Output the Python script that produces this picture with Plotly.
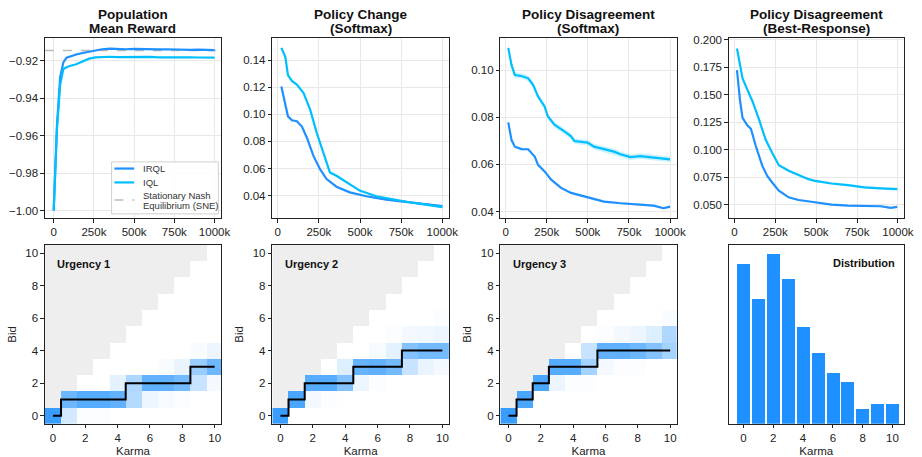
import plotly.graph_objects as go

# ---------------- data ----------------
steps_reward = [0, 20e3, 40e3, 60e3, 80e3, 100e3, 140e3, 180e3, 220e3, 260e3, 300e3, 350e3, 400e3,
                450e3, 500e3, 550e3, 600e3, 650e3, 700e3, 750e3, 800e3, 850e3, 900e3, 950e3, 1000e3]
reward_irql = [-1.0, -0.955, -0.929, -0.921, -0.9185, -0.9178, -0.9168, -0.9160, -0.9152, -0.9146,
               -0.9140, -0.9137, -0.9139, -0.9140, -0.9138, -0.9140, -0.9139, -0.9141, -0.9140,
               -0.9142, -0.9141, -0.9143, -0.9142, -0.9144, -0.9145]
reward_iql = [-1.0, -0.957, -0.933, -0.9245, -0.9236, -0.9229, -0.9220, -0.9205, -0.9190, -0.9183,
              -0.9181, -0.9180, -0.9182, -0.9181, -0.9183, -0.9182, -0.9181, -0.9183, -0.9182,
              -0.9184, -0.9183, -0.9183, -0.9184, -0.9184, -0.9185]
reward_sne = -0.9146

pc_steps_iql = [22e3, 46e3, 62e3, 86e3, 116e3, 157e3, 197e3, 237e3, 277e3, 317e3, 357e3, 418e3,
                498e3, 598e3, 699e3, 799e3, 900e3, 1000e3]
pc_iql = [0.149, 0.1424, 0.129, 0.1246, 0.122, 0.1156, 0.1034, 0.0863, 0.0717, 0.0571, 0.0546,
          0.0498, 0.0437, 0.0395, 0.0371, 0.0351, 0.0334, 0.0315]
pc_steps_irql = [22e3, 46e3, 62e3, 86e3, 116e3, 147e3, 177e3, 217e3, 257e3, 297e3, 357e3, 438e3,
                 538e3, 659e3, 799e3, 900e3, 1000e3]
pc_irql = [0.1205, 0.106, 0.0985, 0.0956, 0.0949, 0.091, 0.0827, 0.0693, 0.0595, 0.0522, 0.0466,
           0.0424, 0.0395, 0.0371, 0.0351, 0.034, 0.0322]

pds_steps_iql = [16e3, 36e3, 56e3, 96e3, 137e3, 167e3, 197e3, 237e3, 257e3, 297e3, 357e3, 398e3,
                 418e3, 498e3, 538e3, 598e3, 659e3, 699e3, 759e3, 819e3, 900e3, 1000e3]
pds_iql = [0.1094, 0.1021, 0.0979, 0.0975, 0.0965, 0.0937, 0.0888, 0.0846, 0.0803, 0.0768, 0.074,
           0.0719, 0.0699, 0.0692, 0.0675, 0.0666, 0.0654, 0.0643, 0.0631, 0.0635, 0.0628, 0.0621]
pds_steps_irql = [16e3, 36e3, 56e3, 96e3, 137e3, 177e3, 197e3, 237e3, 277e3, 337e3, 398e3, 498e3,
                  598e3, 699e3, 799e3, 900e3, 960e3, 1000e3]
pds_irql = [0.0778, 0.0703, 0.0675, 0.0665, 0.0664, 0.0633, 0.0598, 0.057, 0.0535, 0.05, 0.0479,
            0.046, 0.0442, 0.0435, 0.0431, 0.0425, 0.0414, 0.0421]

pdb_steps_iql = [16e3, 34e3, 50e3, 80e3, 111e3, 151e3, 191e3, 231e3, 272e3, 332e3, 392e3, 453e3,
                 493e3, 594e3, 694e3, 795e3, 895e3, 996e3]
pdb_iql = [0.1919, 0.1754, 0.1648, 0.1543, 0.1438, 0.1272, 0.1092, 0.0972, 0.0858, 0.0807, 0.0768,
           0.0731, 0.0716, 0.0692, 0.0677, 0.0656, 0.0647, 0.0641]
pdb_steps_irql = [16e3, 34e3, 50e3, 80e3, 101e3, 131e3, 171e3, 201e3, 231e3, 272e3, 332e3, 392e3,
                  493e3, 594e3, 694e3, 795e3, 895e3, 956e3, 996e3]
pdb_irql = [0.1723, 0.1453, 0.1288, 0.1219, 0.1189, 0.1033, 0.0852, 0.0761, 0.0701, 0.0626, 0.0566,
            0.0542, 0.0521, 0.05, 0.0491, 0.0491, 0.0485, 0.047, 0.0479]

karma = list(range(11))
bids = list(range(11))
# policy probability per karma: {bid: prob}
urgency1 = [{0: 0.88}, {0: 0.2, 1: 0.65}, {0: 0.02, 1: 0.75}, {0: 0.02, 1: 0.75},
            {1: 0.70, 2: 0.12}, {1: 0.33, 2: 0.36}, {1: 0.08, 2: 0.70},
            {1: 0.04, 2: 0.70, 3: 0.03}, {1: 0.02, 2: 0.62, 3: 0.10},
            {2: 0.25, 3: 0.45, 4: 0.03}, {2: 0.05, 3: 0.65, 4: 0.08}]
urgency2 = [{0: 0.88}, {1: 0.8}, {1: 0.05, 2: 0.75}, {1: 0.02, 2: 0.75}, {2: 0.55, 3: 0.15},
            {2: 0.08, 3: 0.68}, {2: 0.02, 3: 0.70, 4: 0.04}, {3: 0.62, 4: 0.12, 5: 0.02},
            {3: 0.25, 4: 0.55, 5: 0.05}, {3: 0.10, 4: 0.62, 5: 0.06},
            {3: 0.05, 4: 0.62, 5: 0.08, 6: 0.02}]
urgency3 = [{0: 0.88}, {1: 0.8}, {2: 0.8}, {2: 0.08, 3: 0.75}, {2: 0.02, 3: 0.75},
            {2: 0.02, 3: 0.40, 4: 0.25}, {3: 0.05, 4: 0.70, 5: 0.02}, {3: 0.02, 4: 0.70, 5: 0.05},
            {3: 0.02, 4: 0.65, 5: 0.08}, {4: 0.55, 5: 0.15}, {4: 0.40, 5: 0.35, 6: 0.03}]
urgency_labels = ["Urgency 1", "Urgency 2", "Urgency 3"]

karma_dist = [0.1744, 0.1364, 0.1863, 0.1581, 0.106, 0.0778, 0.0561, 0.0463, 0.0159, 0.0213, 0.0213]

xticks_vals = [0, 250e3, 500e3, 750e3, 1000e3]
xticks_text = ["0", "250k", "500k", "750k", "1000k"]
legend_labels = [["IRQL"], ["IQL"], ["Stationary Nash", "Equilibrium (SNE)"]]

# ---------------- style ----------------
C_IRQL = "#1E90FF"
C_IQL = "#00BFFF"
C_SNE = "#bbbbbb"
FONT = "Liberation Sans, Arial, sans-serif"
W, H = 922, 457
cols = [(45.3, 223.3), (275.0, 453.3), (505.3, 683.3), (736.0, 912.7)]
rows = [(34.3, 216.0), (243.0, 423.5)]


def px(x):
    return x / W


def py(y):
    return 1 - y / H


def xd(c):
    return [c[0] / W, c[1] / W]


def yd(r):
    return [1 - r[1] / H, 1 - r[0] / H]


fig = go.Figure()


def band_rgba(col, a):
    h = col.lstrip("#")
    r, g, b = int(h[0:2], 16), int(h[2:4], 16), int(h[4:6], 16)
    return f"rgba({r},{g},{b},{a})"


def add_series(xs, ys, color, ax, spread=0.0):
    xa, ya = ax
    if spread > 0:
        fig.add_trace(go.Scatter(x=list(xs) + list(xs)[::-1],
                                 y=[v + spread for v in ys] + [v - spread for v in ys][::-1],
                                 fill="toself", fillcolor=band_rgba(color, 0.2), line=dict(width=0),
                                 hoverinfo="skip", showlegend=False, xaxis=xa, yaxis=ya))
    fig.add_trace(go.Scatter(x=xs, y=ys, mode="lines", line=dict(color=color, width=2.2),
                             showlegend=False, xaxis=xa, yaxis=ya))


# top row
fig.add_trace(go.Scatter(x=[-55e3, 1041e3], y=[reward_sne, reward_sne], mode="lines",
                         line=dict(color=C_SNE, width=1.5, dash="dash"),
                         showlegend=False, xaxis="x", yaxis="y"))
add_series(steps_reward, reward_irql, C_IRQL, ("x", "y"))
add_series(steps_reward, reward_iql, C_IQL, ("x", "y"))

add_series(pc_steps_irql, pc_irql, C_IRQL, ("x2", "y2"), spread=0.0006)
add_series(pc_steps_iql, pc_iql, C_IQL, ("x2", "y2"), spread=0.0008)
add_series(pds_steps_irql, pds_irql, C_IRQL, ("x3", "y3"), spread=0.0005)
add_series(pds_steps_iql, pds_iql, C_IQL, ("x3", "y3"), spread=0.0012)
add_series(pdb_steps_irql, pdb_irql, C_IRQL, ("x4", "y4"), spread=0.0008)
add_series(pdb_steps_iql, pdb_iql, C_IQL, ("x4", "y4"), spread=0.0010)

# bottom heatmaps
for i, probs in enumerate([urgency1, urgency2, urgency3]):
    xa, ya = f"x{5 + i}", f"y{5 + i}"
    z = [[probs[k].get(b, 0.0) for k in karma] for b in bids]
    fig.add_trace(go.Heatmap(x=karma, y=bids, z=z, zmin=0, zmax=1,
                             colorscale=[[0, "#ffffff"], [1, C_IRQL]], showscale=False,
                             xaxis=xa, yaxis=ya, hoverinfo="skip"))
    zg = [[1 if b > k else None for k in karma] for b in bids]
    fig.add_trace(go.Heatmap(x=karma, y=bids, z=zg, zmin=0, zmax=1,
                             colorscale=[[0, "#eeeeee"], [1, "#eeeeee"]], showscale=False,
                             xaxis=xa, yaxis=ya, hoverinfo="skip"))
    mode_bid = [max(probs[k], key=probs[k].get) for k in karma]
    fig.add_trace(go.Scatter(x=karma, y=mode_bid, mode="lines",
                             line=dict(color="black", width=2, shape="hvh"),
                             showlegend=False, xaxis=xa, yaxis=ya))

fig.add_trace(go.Bar(x=karma, y=karma_dist, width=0.87, marker=dict(color=C_IRQL, line=dict(width=0)),
                     showlegend=False, xaxis="x8", yaxis="y8"))

# ---------------- layout ----------------
axis_common = dict(showline=True, mirror=True, linecolor="#222222", linewidth=1,
                   ticks="outside", ticklen=3.5, tickcolor="#222222", tickwidth=1,
                   tickfont=dict(size=11.5, color="#222222", family=FONT), zeroline=False)
lay = dict(width=W, height=H, margin=dict(l=0, r=0, t=0, b=0), plot_bgcolor="white",
           paper_bgcolor="white", font=dict(family=FONT, color="#222222"), bargap=0,
           showlegend=False)

top_yr = [[-1.004, -0.908], [0.0234, 0.1563], [0.0372, 0.1136], [0.0377, 0.2015]]
top_xr = [[-55e3, 1041e3], [-33e3, 1040e3], [-32e3, 1040e3], [-34e3, 1036e3]]
top_dt = [[-1.00, -0.98, -0.96, -0.94, -0.92], [0.04, 0.06, 0.08, 0.10, 0.12, 0.14],
          [0.04, 0.06, 0.08, 0.10], [0.05, 0.075, 0.1, 0.125, 0.15, 0.175, 0.2]]
top_fmt = [".2f", ".2f", ".2f", ".3f"]
for i in range(4):
    n = "" if i == 0 else str(i + 1)
    lay[f"xaxis{n}"] = dict(axis_common, domain=xd(cols[i]), anchor=f"y{n}", range=top_xr[i],
                            tickvals=xticks_vals, ticktext=xticks_text, showgrid=True,
                            gridcolor="#e8e8e8", gridwidth=1)
    lay[f"yaxis{n}"] = dict(axis_common, domain=yd(rows[0]), anchor=f"x{n}", range=top_yr[i],
                            tickvals=top_dt[i], tickformat=top_fmt[i], showgrid=True,
                            gridcolor="#e8e8e8", gridwidth=1)
for i in range(4):
    n = str(i + 5)
    lay[f"xaxis{n}"] = dict(axis_common, domain=xd(cols[i]), anchor=f"y{n}",
                            range=[-0.5, 10.4] if i < 3 else [-0.98, 10.76],
                            tickvals=[0, 2, 4, 6, 8, 10], showgrid=False,
                            title=dict(text="Karma", font=dict(size=11.5, family=FONT), standoff=3))
    if i < 3:
        lay[f"yaxis{n}"] = dict(axis_common, domain=yd(rows[1]), anchor=f"x{n}", range=[-0.5, 10.5],
                                tickvals=[0, 2, 4, 6, 8, 10], showgrid=False,
                                title=dict(text="Bid", font=dict(size=11.5, family=FONT), standoff=6))
    else:
        lay[f"yaxis{n}"] = dict(axis_common, domain=yd(rows[1]), anchor=f"x{n}",
                                range=[0, 0.1956], showticklabels=False, ticks="", showgrid=False)

titles = [("Population", "Mean Reward"), ("Policy Change", "(Softmax)"),
          ("Policy Disagreement", "(Softmax)"), ("Policy Disagreement", "(Best-Response)")]
ann = []
for i, (t1, t2) in enumerate(titles):
    cx = (cols[i][0] + cols[i][1]) / 2 / W
    for t, yy in ((t1, 10.2), (t2, 24.6)):
        ann.append(dict(text=f"<b>{t}</b>", x=cx, y=py(yy), xref="paper", yref="paper",
                        xanchor="center", yanchor="middle", showarrow=False,
                        font=dict(size=13.5, family=FONT, color="#111111")))
for i, lab in enumerate(urgency_labels):
    ann.append(dict(text=f"<b>{lab}</b>", x=px(cols[i][0] + 10.5), y=py(262),
                    xref="paper", yref="paper", xanchor="left", yanchor="middle",
                    showarrow=False, font=dict(size=11, family=FONT, color="#111111")))
ann.append(dict(text="<b>Distribution</b>", x=px(906), y=py(261.7), xref="paper", yref="paper",
                xanchor="right", yanchor="middle", showarrow=False,
                font=dict(size=11, family=FONT, color="#111111")))

# legend (drawn as a box with line samples and labels)
shapes = [dict(type="rect", xref="paper", yref="paper", x0=px(112.7), x1=px(220.5),
               y0=py(211.7), y1=py(159.3), line=dict(color="#d0d0d0", width=1),
               fillcolor="rgba(255,255,255,0.85)", layer="above")]
leg_rows = [(166.0, C_IRQL, "solid", 2.2), (180.0, C_IQL, "solid", 2.2),
            (197.8, C_SNE, "dash", 1.5)]
for (ly, col, dash, lw), labs in zip(leg_rows, legend_labels):
    shapes.append(dict(type="line", xref="paper", yref="paper", x0=px(115.5), x1=px(135.5),
                       y0=py(ly), y1=py(ly), line=dict(color=col, width=lw, dash=dash),
                       layer="above"))
    n = len(labs)
    for j, lab in enumerate(labs):
        ty = ly + (j - (n - 1) / 2) * 10.0
        ann.append(dict(text=lab, x=px(142.5), y=py(ty), xref="paper", yref="paper",
                        xanchor="left", yanchor="middle", align="left", showarrow=False,
                        font=dict(size=9.5, family=FONT, color="#333333")))
lay["annotations"] = ann
lay["shapes"] = shapes
fig.update_layout(**lay)
fig.write_html("out.html", config={"displayModeBar": False},
               post_script="document.body.style.margin='0';document.body.style.overflow='hidden';")
